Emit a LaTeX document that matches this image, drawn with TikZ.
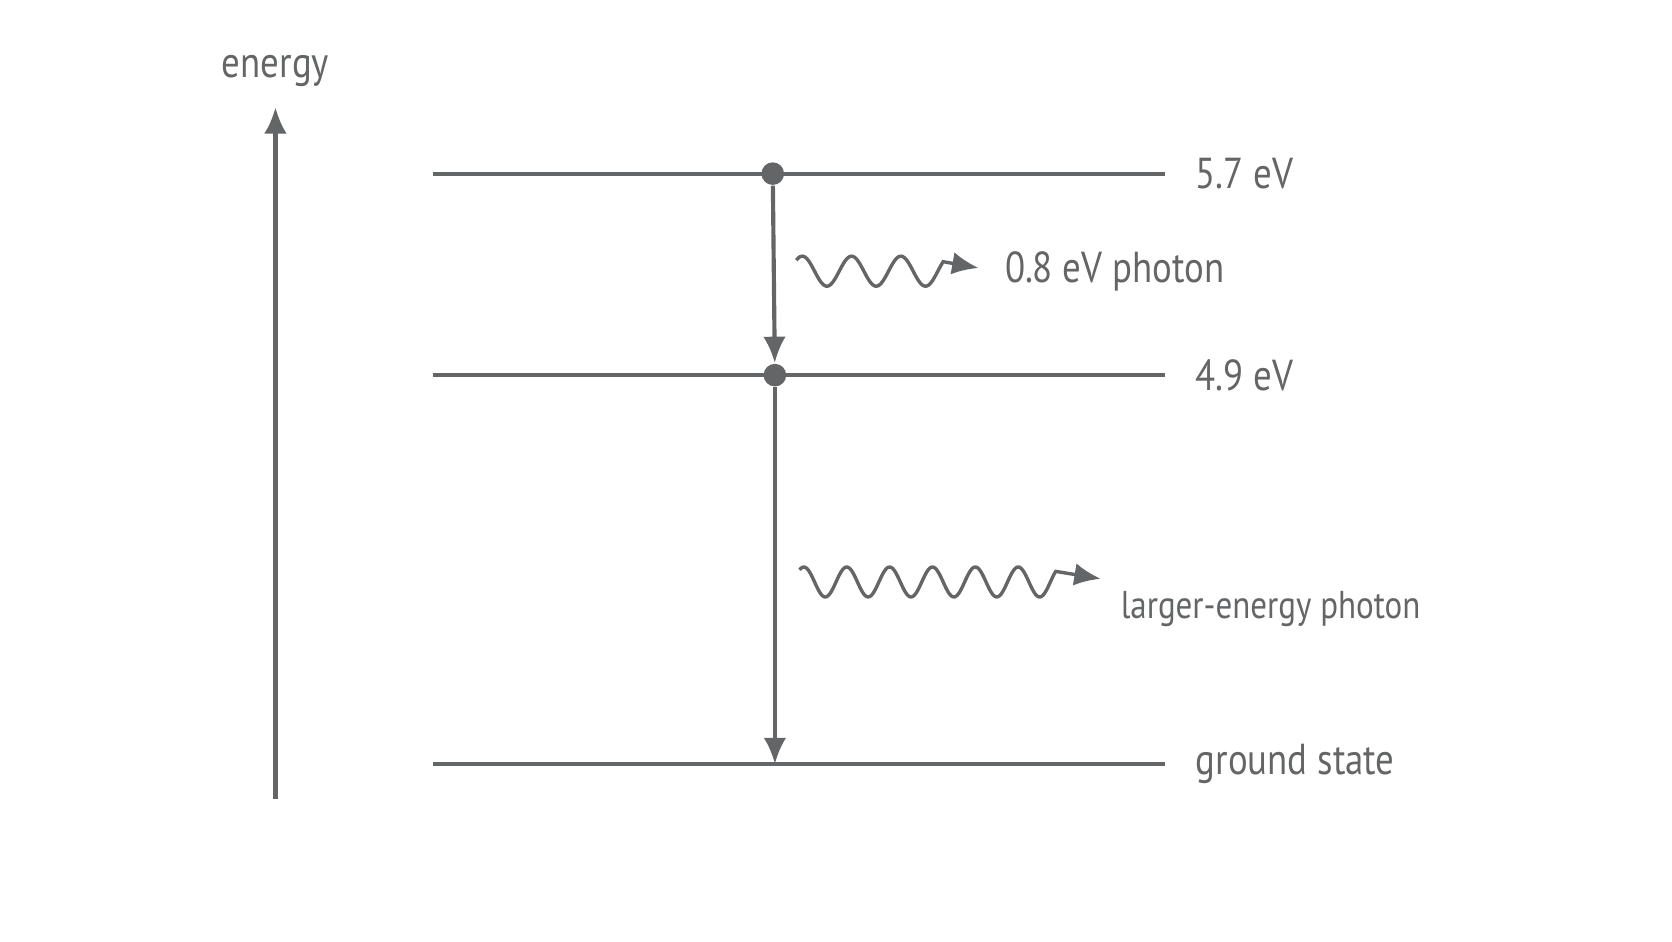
\documentclass[tikz,border=0pt]{standalone}
\usepackage{fontspec}
\setmainfont{PT Sans}[FakeStretch=0.85]
\usetikzlibrary{arrows.meta}
\definecolor{ink}{HTML}{646567}
\tikzset{
  level/.style={ink, line width=1.1pt},
  jump/.style={ink, line width=1.1pt, -{Latex[length=7pt,width=6pt]}},
  wave/.style={ink, line width=0.9pt, -{Latex[length=7pt,width=6pt]}},
  lbl/.style={text=ink, font=\fontsize{11.5}{14}\selectfont, anchor=west, inner sep=0pt},
  dot/.style={circle, fill=ink, inner sep=0pt, minimum size=6pt}
}
\begin{document}
\begin{tikzpicture}[x=0.01cm, y=-0.01cm]
  \useasboundingbox (0,0) rectangle (1560,878);
  % energy axis
  \coordinate (ebot) at (257,745);
  \coordinate (etop) at (257,100);
  \draw[jump] (ebot) -- (etop);
  \node[lbl, anchor=center] (energy) at (257,66) {energy};

  % levels
  \foreach \name/\y in {high/162, mid/350, ground/713} {
    \coordinate (\name L) at (404,\y);
    \coordinate (\name R) at (1087,\y);
    \draw[level] (\name L) -- (\name R);
  }
  \node[lbl] (t57) at (1115,162) {5.7 eV};
  \node[lbl] (t49) at (1115,350) {4.9 eV};
  \node[lbl] (tgs) at (1115,713) {ground state};

  % transitions
  \node[dot] (d1) at (721,162) {};
  \node[dot] (d2) at (723,350) {};
  \coordinate (gnd) at (723,713);
  \draw[jump] (d1) -- (d2);
  \draw[jump] (d2) -- (gnd);

  % photons
  \draw[wave] plot[domain=743:880, samples=120, smooth] (\x,{253-14*sin((\x-737)/46*360)}) -- (913,250);
  \node[lbl] (p1) at (937,253) {0.8 eV photon};
  \draw[wave] plot[domain=746:985, samples=180, smooth] (\x,{543-14*sin((\x-740)/40*360)}) -- (1027,540);
  \node[lbl, font=\fontsize{10.3}{12}\selectfont] (p2) at (1045,568) {larger-energy photon};
\end{tikzpicture}
\end{document}
